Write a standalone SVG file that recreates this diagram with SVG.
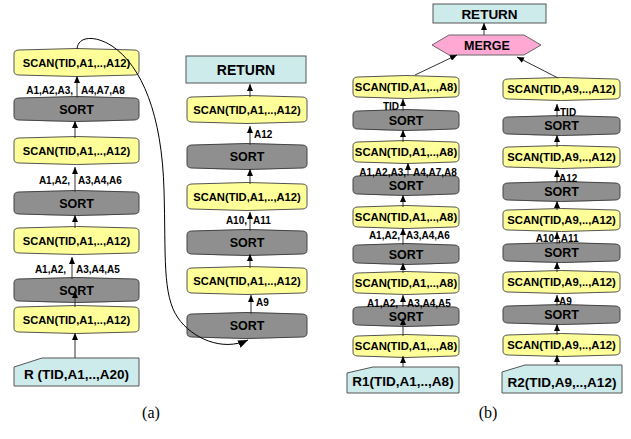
<svg xmlns="http://www.w3.org/2000/svg" xmlns:xlink="http://www.w3.org/1999/xlink" width="631" height="439" viewBox="0 0 631 439">
  <style>
    .scan { fill: #FFFF99; stroke: #555; stroke-width: 1; }
    .sort { fill: #8F8F8F; stroke: #444; stroke-width: 1; }
    .rel { fill: #CDEBEB; stroke: #555; stroke-width: 1; }
    .merge { fill: #FFA8D4; stroke: #666; stroke-width: 1; }
    text { font-family: "Liberation Sans", Arial, sans-serif; font-weight: bold; fill: #000; }
    .ts { font-size: 11.2px; text-anchor: middle; }
    .tsb { font-size: 11.3px; text-anchor: middle; }
    .tso { font-size: 12.5px; text-anchor: middle; }
    .tr { font-size: 13.5px; text-anchor: middle; }
    .tl { font-size: 10px; }
    .end { text-anchor: end; }
    .cap { font-family: "Liberation Serif", "Times New Roman", serif; font-weight: normal; font-size: 16px; text-anchor: middle; }
    .edge { fill: none; stroke: #333; stroke-width: 1; marker-end: url(#head); }
    .loop { fill: none; stroke: #000; stroke-width: 1; marker-end: url(#headL); }
  </style>
  <defs>
    <marker id="head" viewBox="0 0 7 6" refX="7" refY="3" markerWidth="7" markerHeight="6" markerUnits="userSpaceOnUse" orient="auto">
      <path d="M0,0 L7,3 L0,6 Z" fill="#000"/>
    </marker>
    <marker id="headL" viewBox="0 0 10 8" refX="10" refY="4" markerWidth="10" markerHeight="8" markerUnits="userSpaceOnUse" orient="auto">
      <path d="M0,0 L10,4 L0,8 Z" fill="#000"/>
    </marker>
    <!-- drum-like operator shapes, one per column size -->
    <path id="scanA" d="M0,4 Q0,0 5,0 Q62.5,-3 120,0 Q125,0 125,4 L125,21 Q125,25 120,25 Q62.5,28 5,25 Q0,25 0,21 Z"/>
    <path id="sortA" d="M0,4 Q0,0 5,0 Q62.5,-3 120,0 Q125,0 125,4 L125,18 Q125,22 120,22 Q62.5,25 5,22 Q0,22 0,18 Z"/>
    <path id="scanM" d="M0,4 Q0,0 5,0 Q60,-3 115,0 Q120,0 120,4 L120,21 Q120,25 115,25 Q60,28 5,25 Q0,25 0,21 Z"/>
    <path id="sortM" d="M0,4 Q0,0 5,0 Q60,-3 115,0 Q120,0 120,4 L120,19 Q120,23 115,23 Q60,26 5,23 Q0,23 0,19 Z"/>
    <path id="scanBL" d="M0,4 Q0,0 5,0 Q53,-3 101,0 Q106,0 106,4 L106,16 Q106,20 101,20 Q53,23 5,20 Q0,20 0,16 Z"/>
    <path id="sortBL" d="M0,4 Q0,0 5,0 Q53,-3 101,0 Q106,0 106,4 L106,14 Q106,18 101,18 Q53,21 5,18 Q0,18 0,14 Z"/>
    <path id="scanBR" d="M0,4 Q0,0 5,0 Q58.5,-3 112,0 Q117,0 117,4 L117,16 Q117,20 112,20 Q58.5,23 5,20 Q0,20 0,16 Z"/>
    <path id="sortBR" d="M0,4 Q0,0 5,0 Q58.5,-3 112,0 Q117,0 117,4 L117,13 Q117,17 112,17 Q58.5,20 5,17 Q0,17 0,13 Z"/>
  </defs>

  <!-- (a) first pass -->
  <g id="a-scan1"><use xlink:href="#scanA" class="scan" x="14" y="50"/><text class="ts" x="76.5" y="66.5">SCAN(TID,A1,..,A12)</text></g>
  <g id="a-sort1"><use xlink:href="#sortA" class="sort" x="14" y="98"/><text class="tso" x="76.5" y="113.5">SORT</text></g>
  <g id="a-scan2"><use xlink:href="#scanA" class="scan" x="14" y="138"/><text class="ts" x="76.5" y="154.5">SCAN(TID,A1,..,A12)</text></g>
  <g id="a-sort2"><use xlink:href="#sortA" class="sort" x="14" y="192"/><text class="tso" x="76.5" y="207.5">SORT</text></g>
  <g id="a-scan3"><use xlink:href="#scanA" class="scan" x="14" y="228"/><text class="ts" x="76.5" y="244.5">SCAN(TID,A1,..,A12)</text></g>
  <g id="a-sort3"><use xlink:href="#sortA" class="sort" x="14" y="279"/><text class="tso" x="76.5" y="294.5">SORT</text></g>
  <g id="a-scan4"><use xlink:href="#scanA" class="scan" x="14" y="307"/><text class="ts" x="76.5" y="323.5">SCAN(TID,A1,..,A12)</text></g>
  <g id="a-rel"><path class="rel" d="M14,367 L42,358 L139,358 L139,386 L14,386 Z"/><text class="tr" x="76.5" y="378.5">R (TID,A1,..,A20)</text></g>

  <!-- (a) second pass -->
  <g id="a-return"><rect class="rel" x="186" y="56" width="120" height="27"/><text class="tr" x="246" y="75" style="font-size:14px">RETURN</text></g>
  <g id="a-scan5"><use xlink:href="#scanM" class="scan" x="187" y="97"/><text class="ts" x="247" y="113.5">SCAN(TID,A1,..,A12)</text></g>
  <g id="a-sort4"><use xlink:href="#sortM" class="sort" x="187" y="145"/><text class="tso" x="247" y="161">SORT</text></g>
  <g id="a-scan6"><use xlink:href="#scanM" class="scan" x="187" y="184"/><text class="ts" x="247" y="200.5">SCAN(TID,A1,..,A12)</text></g>
  <g id="a-sort5"><use xlink:href="#sortM" class="sort" x="187" y="231"/><text class="tso" x="247" y="247">SORT</text></g>
  <g id="a-scan7"><use xlink:href="#scanM" class="scan" x="187" y="268"/><text class="ts" x="247" y="284.5">SCAN(TID,A1,..,A12)</text></g>
  <g id="a-sort6"><use xlink:href="#sortM" class="sort" x="187" y="314"/><text class="tso" x="247" y="330">SORT</text></g>

  <!-- (b) top -->
  <g id="b-return"><rect class="rel" x="433" y="4" width="113" height="19"/><text class="tr" x="489.5" y="18.5">RETURN</text></g>
  <g id="b-merge"><polygon class="merge" points="432,45 449,35 524,35 541,45 524,55 449,55"/><text class="tso" x="487" y="49.5">MERGE</text></g>

  <!-- (b) left branch -->
  <g id="b1-scan1"><use xlink:href="#scanBL" class="scan" x="353" y="77"/><text class="tsb" x="406" y="91">SCAN(TID,A1,..,A8)</text></g>
  <g id="b1-sort1"><use xlink:href="#sortBL" class="sort" x="353" y="111"/><text class="tso" x="406" y="124.5">SORT</text></g>
  <g id="b1-scan2"><use xlink:href="#scanBL" class="scan" x="353" y="142"/><text class="tsb" x="406" y="156">SCAN(TID,A1,..,A8)</text></g>
  <g id="b1-sort2"><use xlink:href="#sortBL" class="sort" x="353" y="176"/><text class="tso" x="406" y="189.5">SORT</text></g>
  <g id="b1-scan3"><use xlink:href="#scanBL" class="scan" x="353" y="207"/><text class="tsb" x="406" y="221">SCAN(TID,A1,..,A8)</text></g>
  <g id="b1-sort3"><use xlink:href="#sortBL" class="sort" x="353" y="245"/><text class="tso" x="406" y="258.5">SORT</text></g>
  <g id="b1-scan4"><use xlink:href="#scanBL" class="scan" x="353" y="273"/><text class="tsb" x="406" y="287">SCAN(TID,A1,..,A8)</text></g>
  <g id="b1-sort4"><use xlink:href="#sortBL" class="sort" x="353" y="307"/><text class="tso" x="406" y="320.5">SORT</text></g>
  <g id="b1-scan5"><use xlink:href="#scanBL" class="scan" x="353" y="336"/><text class="tsb" x="406" y="350">SCAN(TID,A1,..,A8)</text></g>
  <g id="b1-rel"><path class="rel" d="M347,373 L373,367 L459,367 L459,393 L347,393 Z"/><text class="tr" x="403" y="385.5">R1(TID,A1,..,A8)</text></g>

  <!-- (b) right branch -->
  <g id="b2-scan1"><use xlink:href="#scanBR" class="scan" x="503" y="79"/><text class="tsb" x="561.5" y="93">SCAN(TID,A9,..,A12)</text></g>
  <g id="b2-sort1"><use xlink:href="#sortBR" class="sort" x="503" y="117"/><text class="tso" x="561.5" y="130">SORT</text></g>
  <g id="b2-scan2"><use xlink:href="#scanBR" class="scan" x="503" y="147"/><text class="tsb" x="561.5" y="161">SCAN(TID,A9,..,A12)</text></g>
  <g id="b2-sort2"><use xlink:href="#sortBR" class="sort" x="503" y="183"/><text class="tso" x="561.5" y="196">SORT</text></g>
  <g id="b2-scan3"><use xlink:href="#scanBR" class="scan" x="503" y="210"/><text class="tsb" x="561.5" y="224">SCAN(TID,A9,..,A12)</text></g>
  <g id="b2-sort3"><use xlink:href="#sortBR" class="sort" x="503" y="244"/><text class="tso" x="561.5" y="257">SORT</text></g>
  <g id="b2-scan4"><use xlink:href="#scanBR" class="scan" x="503" y="272"/><text class="tsb" x="561.5" y="286">SCAN(TID,A9,..,A12)</text></g>
  <g id="b2-sort4"><use xlink:href="#sortBR" class="sort" x="503" y="306"/><text class="tso" x="561.5" y="319">SORT</text></g>
  <g id="b2-scan5"><use xlink:href="#scanBR" class="scan" x="503" y="335"/><text class="tsb" x="561.5" y="349">SCAN(TID,A9,..,A12)</text></g>
  <g id="b2-rel"><path class="rel" d="M502,372 L525,365 L622,365 L622,393 L502,393 Z"/><text class="tr" x="562" y="386.5">R2(TID,A9,..,A12)</text></g>

  <!-- connectors -->
  <g id="connectors">
    <!-- (a) first pass -->
    <line class="edge" x1="75" y1="358" x2="75" y2="333"/>
    <line class="edge" x1="75" y1="307" x2="75" y2="291"/>
    <line class="edge" x1="72" y1="279" x2="72" y2="257"/>
    <line class="edge" x1="75" y1="228" x2="75" y2="215"/>
    <line class="edge" x1="75" y1="192" x2="75" y2="167"/>
    <line class="edge" x1="75" y1="138" x2="75" y2="121"/>
    <line class="edge" x1="77" y1="98" x2="77" y2="76"/>
    <!-- (a) second pass -->
    <line class="edge" x1="250" y1="97" x2="250" y2="84"/>
    <line class="edge" x1="250" y1="145" x2="250" y2="126"/>
    <line class="edge" x1="250" y1="184" x2="250" y2="169"/>
    <line class="edge" x1="250" y1="231" x2="250" y2="212"/>
    <line class="edge" x1="250" y1="268" x2="250" y2="254"/>
    <line class="edge" x1="251" y1="314" x2="251" y2="295"/>
    <!-- hand-over from first pass to second pass -->
    <path class="loop" d="M77,49 C78,36 95,35 112,46 C142,66 162,115 164,190 C166,255 162,295 178,318 C192,338 222,352 248,340"/>
    <!-- (b) merge and return -->
    <line class="edge" x1="484" y1="35" x2="484" y2="23"/>
    <line class="edge" x1="415" y1="75" x2="457" y2="55"/>
    <line class="edge" x1="558" y1="78" x2="517" y2="57"/>
    <!-- (b) left branch -->
    <line class="edge" x1="403" y1="111" x2="403" y2="99"/>
    <line class="edge" x1="403" y1="142" x2="403" y2="130"/>
    <line class="edge" x1="408" y1="176" x2="408" y2="163"/>
    <line class="edge" x1="403" y1="207" x2="403" y2="195"/>
    <line class="edge" x1="403" y1="245" x2="403" y2="228"/>
    <line class="edge" x1="403" y1="273" x2="403" y2="263"/>
    <line class="edge" x1="403" y1="307" x2="403" y2="295"/>
    <line class="edge" x1="403" y1="336" x2="403" y2="318"/>
    <line class="edge" x1="403" y1="367" x2="403" y2="356"/>
    <!-- (b) right branch -->
    <line class="edge" x1="557" y1="117" x2="557" y2="104"/>
    <line class="edge" x1="557" y1="147" x2="557" y2="135"/>
    <line class="edge" x1="557" y1="183" x2="557" y2="170"/>
    <line class="edge" x1="557" y1="210" x2="557" y2="201"/>
    <line class="edge" x1="557" y1="244" x2="557" y2="232"/>
    <line class="edge" x1="557" y1="272" x2="557" y2="262"/>
    <line class="edge" x1="557" y1="306" x2="557" y2="295"/>
    <line class="edge" x1="557" y1="335" x2="557" y2="324"/>
    <line class="edge" x1="557" y1="365" x2="557" y2="355"/>
  </g>

  <!-- sort-key labels on the edges -->
  <g id="labels">
    <text class="tl end" x="73" y="93.5">A1,A2,A3,</text><text class="tl" x="81" y="93.5">A4,A7,A8</text>
    <text class="tl end" x="70" y="183.5">A1,A2,</text><text class="tl" x="78" y="183.5">A3,A4,A6</text>
    <text class="tl end" x="66" y="272.5">A1,A2,</text><text class="tl" x="76" y="272.5">A3,A4,A5</text>
    <text class="tl" x="254" y="137.5">A12</text>
    <text class="tl end" x="247" y="223.5">A10,</text><text class="tl" x="253" y="223.5">A11</text>
    <text class="tl" x="256" y="305.5">A9</text>
    <text class="tl end" x="399" y="109.5">TID</text>
    <text class="tl end" x="406" y="175.5">A1,A2,A3,</text><text class="tl" x="413" y="175.5">A4,A7,A8</text>
    <text class="tl end" x="400" y="238.5">A1,A2,</text><text class="tl" x="406" y="238.5">A3,A4,A6</text>
    <text class="tl end" x="398" y="306.5">A1,A2,</text><text class="tl" x="407" y="306.5">A3,A4,A5</text>
    <text class="tl" x="560" y="115.5">TID</text>
    <text class="tl" x="559" y="181.5">A12</text>
    <text class="tl end" x="554" y="241.5">A10</text><text class="tl" x="558" y="241.5">,A11</text>
    <text class="tl" x="559" y="304.5">A9</text>
  </g>

  <text class="cap" x="151" y="418">(a)</text>
  <text class="cap" x="488" y="418">(b)</text>
</svg>
